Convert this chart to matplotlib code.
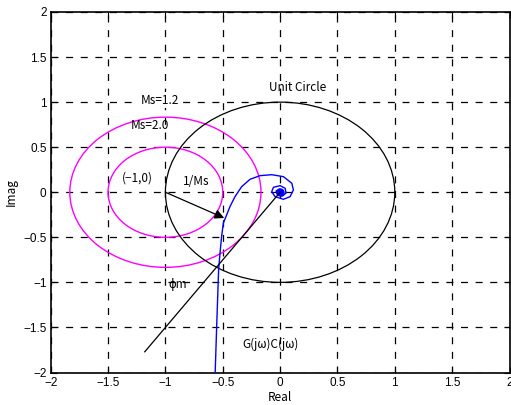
import matplotlib
matplotlib.use('Agg')
from matplotlib import pyplot as plt
from matplotlib.patches import Circle

# Nyquist curve G(jw)C(jw) (low freq -> origin)
nyq_re = [-0.575, -0.566, -0.553, -0.536, -0.524, -0.510, -0.495, -0.472, -0.437,
          -0.393, -0.335, -0.262, -0.175, -0.073, 0.029, 0.102, 0.116, 0.087,
          0.029, -0.044, -0.073, -0.058, 0.0, 0.044, 0.052, 0.023, -0.023,
          -0.035, -0.006, 0.023, 0.015, -0.010, -0.012, 0.0, 0.012, 0.008,
          -0.004, -0.006, 0.0, 0.003, 0.0]
nyq_im = [-2.10, -2.00, -1.49, -0.861, -0.676, -0.492, -0.344, -0.270, -0.159,
          -0.048, 0.062, 0.144, 0.184, 0.195, 0.173, 0.100, 0.025, -0.049,
          -0.078, -0.049, 0.007, 0.055, 0.073, 0.044, -0.008, -0.041, -0.030,
          0.014, 0.036, 0.018, -0.020, -0.005, 0.015, 0.022, 0.008, -0.010,
          -0.012, 0.004, 0.008, 0.0, 0.0]

# circles: (centre, radius)
ms_values = [1.2, 2.0]
ms_center = (-1.0, 0.0)
unit_center = (0.0, 0.0)
unit_radius = 1.0

# phase margin line end and 1/Ms arrow tip
pm_line_x = [0.0, -1.18]
pm_line_y = [0.0, -1.77]
arrow_tip = (-0.487, -0.286)

ticks = [-2, -1.5, -1, -0.5, 0, 0.5, 1, 1.5, 2]
tick_labels = ['\u22122', '\u22121.5', '\u22121', '\u22120.5', '0', '0.5', '1', '1.5', '2']

jp = ['Noto Sans CJK JP', 'DejaVu Sans']

fig = plt.figure(figsize=(5.11, 4.05), dpi=100)
ax = fig.add_axes([50.7 / 511, 1 - 372.5 / 405, (509.5 - 50.7) / 511, (372.5 - 12) / 405])

ax.grid(True, color='black', linewidth=0.9, linestyle=(0, (5.6, 6.1)))
ax.set_axisbelow(True)

for ms in ms_values:
    ax.add_patch(Circle(ms_center, 1 / ms, fill=False, edgecolor='#ff00ff', linewidth=1.0, zorder=3))
ax.add_patch(Circle(unit_center, unit_radius, fill=False, edgecolor='black', linewidth=0.9, zorder=3))

ax.plot(nyq_re, nyq_im, color='blue', linewidth=1.0, zorder=4)
ax.plot([0], [0], 'o', color='blue', markersize=5, zorder=4)
ax.plot(pm_line_x, pm_line_y, color='black', linewidth=0.9, zorder=4)

ax.annotate('', xy=arrow_tip, xytext=ms_center,
            arrowprops=dict(arrowstyle='-|>', color='black', lw=0.9,
                            mutation_scale=14, shrinkA=0, shrinkB=0), zorder=5)

fs = 8.5
ax.text(0.157, 1.167, 'Unit Circle', family=jp, fontsize=fs, ha='center', va='center')
ax.text(-1.05, 1.02, 'Ms=1.2', family=jp, fontsize=fs, ha='center', va='center',
        bbox=dict(facecolor='white', edgecolor='none', pad=1))
ax.text(-1.136, 0.743, 'Ms=2.0', family=jp, fontsize=fs, ha='center', va='center')
ax.text(-1.24, 0.158, '(\u22121,0)', family=jp, fontsize=fs, ha='center', va='center')
ax.text(-0.727, 0.114, '1/Ms', family=jp, fontsize=fs, ha='center', va='center')
ax.text(-0.89, -1.02, '\u03d5m', family=jp, fontsize=fs, ha='center', va='center')
ax.text(-0.087, -1.69, 'G(j\u03c9)C(j\u03c9)', family=jp, fontsize=fs, ha='center', va='center')

ax.set_xlim(-2, 2)
ax.set_ylim(-2, 2)
ax.set_xticks(ticks)
ax.set_xticklabels(tick_labels)
ax.set_yticks(ticks)
ax.set_yticklabels(tick_labels)
ax.tick_params(direction='in', length=4, width=0.8, top=True, right=True,
               labelsize=8.5, pad=3)
for lab in ax.get_xticklabels() + ax.get_yticklabels():
    lab.set_family('Liberation Sans')
for sp in ax.spines.values():
    sp.set_linewidth(1.2)

ax.set_xlabel('Real', family=jp, fontsize=8.5, labelpad=2)
ax.set_ylabel('Imag', family=jp, fontsize=8.5, labelpad=4)

fig.savefig('out.png', dpi=100)
